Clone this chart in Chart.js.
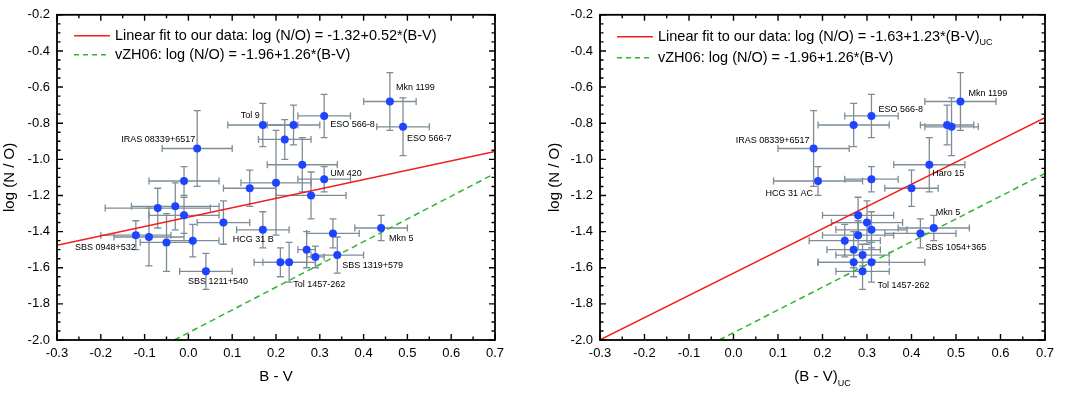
<!DOCTYPE html>
<html>
<head>
<meta charset="utf-8">
<script src="https://cdn.jsdelivr.net/npm/chart.js@4.4.1/dist/chart.umd.min.js"></script>
<style>
  body { margin: 0; background: #fff; }
  #wrap { position: relative; width: 1066px; height: 394px; }
  .panel { position: absolute; top: 0; width: 533px; height: 394px; }
</style>
</head>
<body>
<div id="wrap">
  <div class="panel" style="left:0"><canvas id="left" width="533" height="394"></canvas></div>
  <div class="panel" style="left:533px"><canvas id="right" width="533" height="394"></canvas></div>
</div>
<script>
// --- axis ticks (same for both panels) ---
const xTicks = [-0.3, -0.2, -0.1, 0.0, 0.1, 0.2, 0.3, 0.4, 0.5, 0.6, 0.7];
const yTicks = [-2.0, -1.8, -1.6, -1.4, -1.2, -1.0, -0.8, -0.6, -0.4, -0.2];

// --- left panel: B - V ---
const leftX    = [0.46, 0.49, 0.31, 0.17, 0.24, 0.22, 0.02, 0.26, 0.31, -0.01, 0.14, 0.20, 0.28, -0.07, -0.03, -0.01, 0.08, 0.17, -0.12, -0.09, -0.05, 0.01, 0.04, 0.44, 0.33, 0.27, 0.29, 0.34, 0.21, 0.23];
const leftY    = [-0.68, -0.82, -0.76, -0.81, -0.81, -0.89, -0.94, -1.03, -1.11, -1.12, -1.16, -1.13, -1.20, -1.27, -1.26, -1.31, -1.35, -1.39, -1.42, -1.43, -1.46, -1.45, -1.62, -1.38, -1.41, -1.50, -1.54, -1.53, -1.57, -1.57];
const leftXErr = [0.06, 0.06, 0.06, 0.08, 0.06, 0.06, 0.08, 0.08, 0.06, 0.08, 0.06, 0.08, 0.08, 0.12, 0.10, 0.08, 0.06, 0.06, 0.08, 0.08, 0.06, 0.06, 0.06, 0.06, 0.06, 0.02, 0.02, 0.06, 0.06, 0.06];
const leftYErr = [0.16, 0.16, 0.12, 0.12, 0.11, 0.11, 0.21, 0.15, 0.07, 0.08, 0.10, 0.29, 0.13, 0.11, 0.13, 0.10, 0.12, 0.10, 0.08, 0.16, 0.16, 0.09, 0.10, 0.07, 0.08, 0.10, 0.06, 0.10, 0.08, 0.11];
const leftFitX = [-0.3, 0.7];
const leftFitY = [-1.476, -0.956];
const vzhX = [-0.032, 0.7];
const vzhY = [-2.0, -1.078];

// labels: point index, text, offset from the marker
const leftLabels = [
  [0, 'Mkn 1199', 6, -14, 'left'],
  [1, 'ESO 566-7', 4, 12, 'left'],
  [2, 'ESO 566-8', 6, 9, 'left'],
  [3, 'Tol 9', -3, -9, 'right'],
  [6, 'IRAS 08339+6517', -2, -9, 'right'],
  [8, 'UM 420', 6, -6, 'left'],
  [17, 'HCG 31 B', -30, 10, 'left'],
  [18, 'SBS 0948+532', 0, 12, 'right'],
  [22, 'SBS 1211+540', -18, 10, 'left'],
  [23, 'Mkn 5', 8, 11, 'left'],
  [27, 'SBS 1319+579', 5, 10, 'left'],
  [29, 'Tol 1457-262', 4, 22, 'left']
];

// --- right panel: (B - V)UC ---
const rightX    = [0.51, 0.48, 0.49, 0.31, 0.27, 0.18, 0.44, 0.19, 0.31, 0.40, 0.28, 0.30, 0.31, 0.28, 0.25, 0.42, 0.45, 0.27, 0.29, 0.27, 0.31, 0.29];
const rightY    = [-0.68, -0.81, -0.82, -0.76, -0.81, -0.94, -1.03, -1.12, -1.11, -1.16, -1.31, -1.35, -1.39, -1.42, -1.45, -1.41, -1.38, -1.50, -1.53, -1.57, -1.57, -1.62];
const rightXErr = [0.08, 0.06, 0.06, 0.06, 0.08, 0.08, 0.08, 0.10, 0.06, 0.06, 0.08, 0.08, 0.08, 0.08, 0.08, 0.08, 0.08, 0.06, 0.06, 0.08, 0.12, 0.06];
const rightYErr = [0.16, 0.11, 0.16, 0.12, 0.12, 0.21, 0.15, 0.08, 0.07, 0.10, 0.10, 0.12, 0.10, 0.08, 0.09, 0.08, 0.07, 0.10, 0.06, 0.08, 0.11, 0.10];
const rightFitX = [-0.3, 0.7];
const rightFitY = [-1.999, -0.769];

const rightLabels = [
  [0, 'Mkn 1199', 8, -8, 'left'],
  [3, 'ESO 566-8', 7, -6, 'left'],
  [5, 'IRAS 08339+6517', -4, -8, 'right'],
  [6, 'Haro 15', 3, 9, 'left'],
  [7, 'HCG 31 AC', -5, 13, 'right'],
  [15, 'SBS 1054+365', 5, 14, 'left'],
  [16, 'Mkn 5', 2, -15, 'left'],
  [20, 'Tol 1457-262', 6, 23, 'left']
];

const FONT = 'Arial, "Liberation Sans", sans-serif';
const RED = '#f21d1d';
const GREEN = '#2fb52f';
const BLUE = '#1f44ff';
const ERR = '#7d8d97';

function pairs(xs, ys) {
  return xs.map((x, i) => ({ x: x, y: ys[i] }));
}

// error bars under the markers
const errorBars = {
  id: 'errorBars',
  beforeDatasetsDraw(chart, args, opts) {
    const { ctx, chartArea } = chart;
    const xs = chart.scales.x, ys = chart.scales.y;
    ctx.save();
    ctx.beginPath();
    ctx.rect(chartArea.left, chartArea.top, chartArea.right - chartArea.left, chartArea.bottom - chartArea.top);
    ctx.clip();
    ctx.strokeStyle = ERR;
    ctx.lineWidth = 1.3;
    const cap = 3.5;
    opts.x.forEach((x, i) => {
      const y = opts.y[i];
      const px = xs.getPixelForValue(x), py = ys.getPixelForValue(y);
      const x0 = xs.getPixelForValue(x - opts.xe[i]), x1 = xs.getPixelForValue(x + opts.xe[i]);
      const y0 = ys.getPixelForValue(y - opts.ye[i]), y1 = ys.getPixelForValue(y + opts.ye[i]);
      ctx.beginPath();
      ctx.moveTo(x0, py); ctx.lineTo(x1, py);
      ctx.moveTo(x0, py - cap); ctx.lineTo(x0, py + cap);
      ctx.moveTo(x1, py - cap); ctx.lineTo(x1, py + cap);
      ctx.moveTo(px, y0); ctx.lineTo(px, y1);
      ctx.moveTo(px - cap, y0); ctx.lineTo(px + cap, y0);
      ctx.moveTo(px - cap, y1); ctx.lineTo(px + cap, y1);
      ctx.stroke();
    });
    ctx.restore();
  }
};

// object names next to the markers
const pointLabels = {
  id: 'pointLabels',
  afterDatasetsDraw(chart, args, opts) {
    const { ctx } = chart;
    const xs = chart.scales.x, ys = chart.scales.y;
    ctx.save();
    ctx.font = '9px ' + FONT;
    ctx.fillStyle = '#000';
    ctx.textBaseline = 'middle';
    opts.labels.forEach(([i, text, dx, dy, align]) => {
      ctx.textAlign = align;
      ctx.fillText(text, xs.getPixelForValue(opts.x[i]) + dx, ys.getPixelForValue(opts.y[i]) + dy);
    });
    ctx.restore();
  }
};

// box frame with inward ticks on all four sides
const frame = {
  id: 'frame',
  afterDraw(chart) {
    const { ctx, chartArea: a } = chart;
    const xs = chart.scales.x, ys = chart.scales.y;
    ctx.save();
    ctx.strokeStyle = '#000';
    ctx.lineWidth = 1.4;
    const tick = (x0, y0, x1, y1) => { ctx.moveTo(x0, y0); ctx.lineTo(x1, y1); };
    ctx.beginPath();
    for (let k = 0; k < xTicks.length; k++) {
      const list = [xTicks[k]];
      if (k < xTicks.length - 1) list.push((xTicks[k] + xTicks[k + 1]) / 2);
      list.forEach((v, j) => {
        const p = xs.getPixelForValue(v), len = j === 0 ? 6 : 3.5;
        tick(p, a.bottom, p, a.bottom - len);
        tick(p, a.top, p, a.top + len);
      });
    }
    for (let k = 0; k < yTicks.length; k++) {
      const list = [yTicks[k]];
      if (k < yTicks.length - 1) {
        const d = (yTicks[k + 1] - yTicks[k]) / 4;
        list.push(yTicks[k] + d, yTicks[k] + 2 * d, yTicks[k] + 3 * d);
      }
      list.forEach((v, j) => {
        const p = ys.getPixelForValue(v), len = j === 0 ? 6 : 3.5;
        tick(a.left, p, a.left + len, p);
        tick(a.right, p, a.right - len, p);
      });
    }
    ctx.stroke();
    ctx.lineWidth = 1.8;
    ctx.strokeRect(a.left, a.top, a.right - a.left, a.bottom - a.top);
    ctx.restore();
  }
};

// legend in the upper left corner, with optional subscript
const boxLegend = {
  id: 'boxLegend',
  afterDraw(chart, args, opts) {
    const { ctx, chartArea: a } = chart;
    ctx.save();
    ctx.textBaseline = 'middle';
    ctx.textAlign = 'left';
    opts.items.forEach((it, k) => {
      const y = a.top + opts.rows[k];
      const x0 = a.left + 17;
      ctx.strokeStyle = it.color;
      ctx.lineWidth = 1.5;
      ctx.setLineDash(it.dash || []);
      ctx.beginPath();
      ctx.moveTo(x0, y); ctx.lineTo(x0 + 36, y);
      ctx.stroke();
      ctx.setLineDash([]);
      ctx.fillStyle = '#000';
      ctx.font = '14.5px ' + FONT;
      ctx.fillText(it.text, x0 + 41, y);
      if (it.sub) {
        const w = ctx.measureText(it.text).width;
        ctx.font = '9px ' + FONT;
        ctx.fillText(it.sub, x0 + 41 + w, y + 6);
      }
    });
    ctx.restore();
  }
};

// x axis title with subscript (right panel)
const subTitle = {
  id: 'subTitle',
  afterDraw(chart, args, opts) {
    if (!opts.text) return;
    const { ctx, chartArea: a } = chart;
    ctx.save();
    ctx.fillStyle = '#000';
    ctx.textBaseline = 'middle';
    ctx.textAlign = 'left';
    ctx.font = '15px ' + FONT;
    const w1 = ctx.measureText(opts.text).width;
    ctx.font = '9px ' + FONT;
    const w2 = ctx.measureText(opts.sub).width;
    const x = (a.left + a.right) / 2 - (w1 + w2) / 2;
    ctx.font = '15px ' + FONT;
    ctx.fillText(opts.text, x, 377);
    ctx.font = '9px ' + FONT;
    ctx.fillText(opts.sub, x + w1, 384);
    ctx.restore();
  }
};

function makePanel(id, cfg) {
  return new Chart(document.getElementById(id), {
    type: 'scatter',
    data: {
      datasets: [
        { data: pairs(cfg.x, cfg.y), pointRadius: 4, pointHoverRadius: 4, backgroundColor: BLUE, borderWidth: 0, order: 0 },
        { data: pairs(cfg.fitX, cfg.fitY), showLine: true, pointRadius: 0, borderColor: RED, borderWidth: 1.5, order: 1 },
        { data: pairs(vzhX, vzhY), showLine: true, pointRadius: 0, borderColor: GREEN, borderWidth: 1.5, borderDash: [6, 4], order: 1 }
      ]
    },
    options: {
      responsive: false,
      animation: false,
      layout: { padding: { top: 6, right: cfg.padRight, left: 0, bottom: 0 } },
      scales: {
        x: {
          min: -0.3, max: 0.7,
          afterBuildTicks: s => { s.ticks = xTicks.map(v => ({ value: v })); },
          afterFit: s => { s.height = 54; },
          grid: { display: false, drawTicks: false, tickLength: 0 },
          border: { display: false },
          ticks: { padding: 6, color: '#000', font: { family: FONT, size: 13 }, callback: v => v.toFixed(1), maxRotation: 0 },
          title: { display: cfg.xTitle !== '', text: cfg.xTitle, color: '#000', font: { family: FONT, size: 15 }, padding: { top: 0, bottom: 8 } }
        },
        y: {
          min: -2.0, max: -0.2,
          afterBuildTicks: s => { s.ticks = yTicks.map(v => ({ value: v })); },
          afterFit: s => { s.width = cfg.yWidth; },
          grid: { display: false, drawTicks: false, tickLength: 0 },
          border: { display: false },
          ticks: { padding: 7, color: '#000', font: { family: FONT, size: 13 }, callback: v => v.toFixed(1) },
          title: { display: true, text: 'log (N / O)', color: '#000', font: { family: FONT, size: 15 }, padding: { top: cfg.yTitlePad, bottom: 0 } }
        }
      },
      plugins: {
        legend: { display: false },
        tooltip: { enabled: false },
        errorBars: { x: cfg.x, y: cfg.y, xe: cfg.xe, ye: cfg.ye },
        pointLabels: { x: cfg.x, y: cfg.y, labels: cfg.labels },
        boxLegend: { items: cfg.legend, rows: cfg.legendRows },
        subTitle: cfg.subTitle
      }
    },
    plugins: [errorBars, pointLabels, frame, boxLegend, subTitle]
  });
}

makePanel('left', {
  x: leftX, y: leftY, xe: leftXErr, ye: leftYErr, fitX: leftFitX, fitY: leftFitY,
  labels: leftLabels, padRight: 38, yWidth: 57, yTitlePad: 1, xTitle: 'B - V',
  legend: [
    { text: 'Linear fit to our data: log (N/O) = -1.32+0.52*(B-V)', color: RED },
    { text: 'vZH06: log (N/O) = -1.96+1.26*(B-V)', color: GREEN, dash: [5, 4] }
  ],
  legendRows: [21, 40],
  subTitle: {}
});

makePanel('right', {
  x: rightX, y: rightY, xe: rightXErr, ye: rightYErr, fitX: rightFitX, fitY: rightFitY,
  labels: rightLabels, padRight: 21, yWidth: 67, yTitlePad: 13, xTitle: '',
  legend: [
    { text: 'Linear fit to our data: log (N/O) = -1.63+1.23*(B-V)', sub: 'UC', color: RED },
    { text: 'vZH06: log (N/O) = -1.96+1.26*(B-V)', color: GREEN, dash: [5, 4] }
  ],
  legendRows: [22, 43],
  subTitle: { text: '(B - V)', sub: 'UC' }
});
</script>
</body>
</html>
